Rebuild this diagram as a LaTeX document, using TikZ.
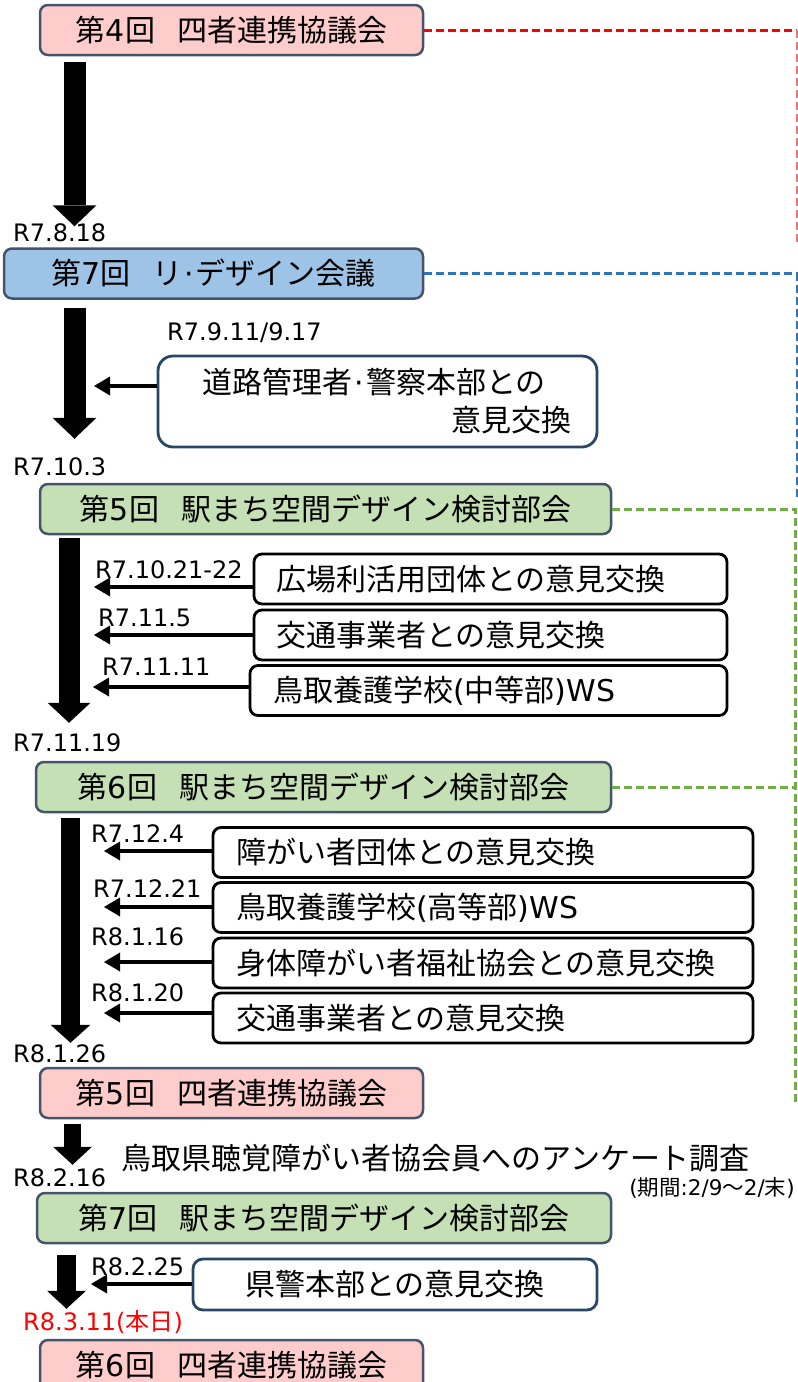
\documentclass[tikz,border=0pt]{standalone}
\usepackage{fontspec}
\setmainfont{Noto Sans CJK JP}
\newfontfamily\dv{DejaVu Sans}
\usetikzlibrary{arrows.meta,calc}
\setlength{\parindent}{0pt}
\definecolor{pinkf}{HTML}{FFCCCC}
\definecolor{bluef}{HTML}{9DC3E6}
\definecolor{greenf}{HTML}{C5E0B4}
\definecolor{slate}{HTML}{44546A}
\definecolor{navyb}{HTML}{2A4666}
\definecolor{dblue}{HTML}{2E75B6}
\definecolor{dgreen}{HTML}{70AD47}
\definecolor{lred}{HTML}{EE7777}
\newcommand{\mdot}{\hspace{2pt}{\dv ·}\hspace{2pt}}
\begin{document}
\begin{tikzpicture}[x=1pt,y=-1pt,
  every node/.style={inner sep=0pt},
  mainbox/.style={draw=slate, line width=2.5pt, rounded corners=8pt,
    font=\fontsize{30}{36}\selectfont, align=center, minimum height=50pt},
  listbox/.style={draw=black, fill=white, line width=2.8pt, rounded corners=8pt,
    font=\fontsize{30}{36}\selectfont, align=left, minimum height=50pt, inner xsep=22pt},
  datel/.style={anchor=west, font=\dv\fontsize{24}{28}\selectfont},
  bigarr/.style n args={3}{line width=#1, -{Triangle[length=#3,width=#2,line width=0pt]}},
  smallarr/.style={line width=4.5pt, -{Triangle[length=16pt,width=19pt,line width=0pt]}},
  reddash/.style={draw=red, line width=3pt, dash pattern=on 8pt off 4pt},
  redthin/.style={draw=lred, line width=1.3pt, dash pattern=on 8pt off 4pt},
  bluedash/.style={draw=dblue, line width=2.6pt, dash pattern=on 8pt off 4pt},
  greendash/.style={draw=dgreen, line width=3pt, dash pattern=on 8pt off 4pt}]
\useasboundingbox (0,0) rectangle (798,1382);
\clip (0,0) rectangle (798,1382);

% main boxes
\node[mainbox, fill=pinkf, minimum width=383pt] (m1) at (231.5,30) {第{\dv 4}回\hspace{22pt}四者連携協議会};
\node[mainbox, fill=bluef, minimum width=419pt] (m2) at (213.5,273.5) {第{\dv 7}回\hspace{22pt}リ\mdot デザイン会議};
\node[draw=navyb, fill=white, line width=2.8pt, rounded corners=15pt,
  minimum width=439pt, minimum height=91pt, text width=388pt, align=left,
  font=\fontsize{30}{38}\selectfont] (road) at (377.5,401.5)
  {\hspace*{19pt}道路管理者\mdot 警察本部との\\\hfill 意見交換};
\node[mainbox, fill=greenf, minimum width=571pt] (g5) at (325.5,509) {第{\dv 5}回\hspace{22pt}駅まち空間デザイン検討部会};
\node[listbox, minimum width=473pt, text width=429pt] (h1) at (490.5,579) {広場利活用団体との意見交換};
\node[listbox, minimum width=473pt, text width=429pt] (h2) at (490.5,635) {交通事業者との意見交換};
\node[listbox, minimum width=477pt, text width=431pt, inner xsep=23pt] (h3) at (488.5,690.5) {鳥取養護学校{\dv (}中等部{\dv )WS}};
\node[mainbox, fill=greenf, minimum width=575pt] (g6) at (323.5,787) {第{\dv 6}回\hspace{22pt}駅まち空間デザイン検討部会};
\node[listbox, minimum width=540pt, text width=494pt, inner xsep=23pt] (k1) at (483,852.5) {障がい者団体との意見交換};
\node[listbox, minimum width=540pt, text width=494pt, inner xsep=23pt] (k2) at (483,907.5) {鳥取養護学校{\dv (}高等部{\dv )WS}};
\node[listbox, minimum width=540pt, text width=494pt, inner xsep=23pt] (k3) at (483,963) {身体障がい者福祉協会との意見交換};
\node[listbox, minimum width=540pt, text width=494pt, inner xsep=23pt] (k4) at (483,1018) {交通事業者との意見交換};
\node[mainbox, fill=pinkf, minimum width=383pt] (m5) at (231.5,1093) {第{\dv 5}回\hspace{22pt}四者連携協議会};
\node[mainbox, fill=greenf, minimum width=574pt] (g7) at (324,1218) {第{\dv 7}回\hspace{22pt}駅まち空間デザイン検討部会};
\node[draw=navyb, fill=white, line width=2.8pt, rounded corners=10pt,
  minimum width=404pt, minimum height=51pt, font=\fontsize{30}{36}\selectfont] (kenkei) at (395,1284.5) {県警本部との意見交換};
\node[mainbox, fill=pinkf, minimum width=383pt] (m6) at (231.5,1365) {第{\dv 6}回\hspace{22pt}四者連携協議会};

% date labels and texts
\node[datel] (d1) at (13,233) {R7.8.18};
\node[datel] (d2) at (167,333) {R7.9.11/9.17};
\node[datel] (d3) at (13,467) {R7.10.3};
\node[datel] (d4) at (95,570) {R7.10.21-22};
\node[datel] (d5) at (98,618) {R7.11.5};
\node[datel] (d6) at (102,667) {R7.11.11};
\node[datel] (d7) at (13,743) {R7.11.19};
\node[datel] (d8) at (91,834) {R7.12.4};
\node[datel] (d9) at (93,889) {R7.12.21};
\node[datel] (d10) at (91,937) {R8.1.16};
\node[datel] (d11) at (91,993) {R8.1.20};
\node[datel] (d12) at (13,1054) {R8.1.26};
\node[anchor=west, font=\fontsize{30}{36}\selectfont] (survey) at (121,1158) {鳥取県聴覚障がい者協会員へのアンケート調査};
\node[datel] (d13) at (13,1178) {R8.2.16};
\node[anchor=east, font=\fontsize{21.5}{24}\selectfont] (period) at (795,1188) {{\dv (}期間{\dv :2/9}～{\dv 2/}末{\dv )}};
\node[datel] (d14) at (91,1267) {R8.2.25};
\node[datel, text=red] (d15) at (23,1322) {R8.3.11({\rmfamily 本日})};

% big arrows
\coordinate (ax1) at (74.5,0);
\coordinate (ax3) at (69,0);
\coordinate (ax4) at (70.5,0);
\coordinate (ax5) at (72.5,0);
\coordinate (ax6) at (66.5,0);
\draw[bigarr={22pt}{44pt}{21pt}, shorten <=6pt, shorten >=21pt] (ax1 |- m1.south) -- (ax1 |- m2.north);
\draw[bigarr={22pt}{44pt}{21pt}, shorten <=8pt, shorten >=44pt] (ax1 |- m2.south) -- (ax1 |- g5.north);
\draw[bigarr={21pt}{43pt}{20pt}, shorten <=3pt, shorten >=38pt] (ax3 |- g5.south) -- (ax3 |- g6.north);
\draw[bigarr={19pt}{40pt}{18pt}, shorten <=5pt, shorten >=24pt] (ax4 |- g6.south) -- (ax4 |- m5.north);
\draw[bigarr={17pt}{39pt}{18pt}, shorten <=5pt, shorten >=27pt] (ax5 |- m5.south) -- (ax5 |- g7.north);
\draw[bigarr={19pt}{39pt}{18pt}, shorten <=11pt, shorten >=30pt] (ax6 |- g7.south) -- (ax6 |- m6.north);

% small arrows
\coordinate (t0) at (94,386);
\coordinate (t1) at (94,587);
\coordinate (t2) at (94,635);
\coordinate (t3) at (93,687);
\coordinate (t4) at (104,851);
\coordinate (t5) at (104,907);
\coordinate (t6) at (104,962);
\coordinate (t7) at (104,1013);
\coordinate (t8) at (91,1284);
\draw[smallarr] (road.west |- t0) -- (t0);
\draw[smallarr] (h1.west |- t1) -- (t1);
\draw[smallarr] (h2.west |- t2) -- (t2);
\draw[smallarr] (h3.west |- t3) -- (t3);
\draw[smallarr] (k1.west |- t4) -- (t4);
\draw[smallarr] (k2.west |- t5) -- (t5);
\draw[smallarr] (k3.west |- t6) -- (t6);
\draw[smallarr] (k4.west |- t7) -- (t7);
\draw[smallarr] (kenkei.west |- t8) -- (t8);

% dashed links
\coordinate (rx) at (797,0);
\coordinate (gx) at (795,0);
\coordinate (rend) at (797,243);
\coordinate (bend) at (797,497);
\coordinate (gend) at (795,1106);
\draw[reddash] (m1.east) -- (m1.east -| rx);
\draw[redthin] (m1.east -| rx) -- (rend);
\draw[bluedash] (m2.east) -- (m2.east -| rx) -- (bend);
\draw[greendash] (g5.east) -- (g5.east -| gx) -- (gend);
\draw[greendash] (g6.east) -- (g6.east -| gx);
\end{tikzpicture}
\end{document}
